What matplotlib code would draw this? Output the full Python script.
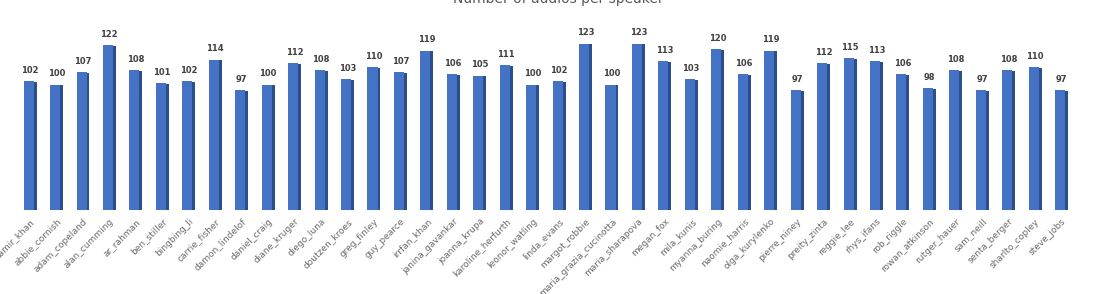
import numpy as np
import matplotlib
matplotlib.use("Agg")
from matplotlib import pyplot as plt

speakers = ["aamir_khan", "abbie_cornish", "adam_copeland", "alan_cumming", "ar_rahman",
            "ben_stiller", "bingbing_li", "carrie_fisher", "damon_lindelof", "daniel_craig",
            "diane_kruger", "diego_luna", "doutzen_kroes", "greg_finley", "guy_pearce",
            "irrfan_khan", "janina_gavankar", "joanna_krupa", "karoline_herfurth", "leonor_watling",
            "linda_evans", "margot_robbie", "maria_grazia_cucinotta", "maria_sharapova", "megan_fox",
            "mila_kunis", "myanna_buring", "naomie_harris", "olga_kurylenko", "pierre_niney",
            "preity_zinta", "reggie_lee", "rhys_ifans", "rob_riggle", "rowan_atkinson",
            "rutger_hauer", "sam_neill", "senta_berger", "sharlto_copley", "steve_jobs"]
counts = [102, 100, 107, 122, 108, 101, 102, 114, 97, 100,
          112, 108, 103, 110, 107, 119, 106, 105, 111, 100,
          102, 123, 100, 123, 113, 103, 120, 106, 119, 97,
          112, 115, 113, 106, 98, 108, 97, 108, 110, 97]

x = np.arange(len(speakers))

fig = plt.figure(figsize=(11.16, 2.94), dpi=100)
ax = fig.add_axes([0.015, 0.286, 0.948, 0.578])

# front face and darker side face to mimic the 3d look
ax.bar(x + 0.19, np.array(counts) - 0.4, width=0.12, color="#2b4f8c", zorder=1)
ax.bar(x - 0.05, counts, width=0.38, color="#4472c4", zorder=2)

for xi, c in zip(x, counts):
    ax.text(xi, c + 3.5, str(c), ha="center", va="bottom", fontsize=6,
            fontweight="bold", color="#404040")

ax.set_xlim(-0.5, len(speakers) - 0.5)
ax.set_ylim(30, 125)
ax.set_xticks(x)
ax.set_xticklabels(speakers, rotation=45, ha="right", rotation_mode="anchor",
                   fontsize=6.5, color="#6b6b6b")
ax.tick_params(axis="x", length=0, pad=5)
ax.set_yticks([])
for s in ax.spines.values():
    s.set_visible(False)

fig.text(0.5, 1.005, "Number of audios per speaker", ha="center", va="center",
         fontsize=10, color="#595959")

fig.savefig("out.png", dpi=100)
